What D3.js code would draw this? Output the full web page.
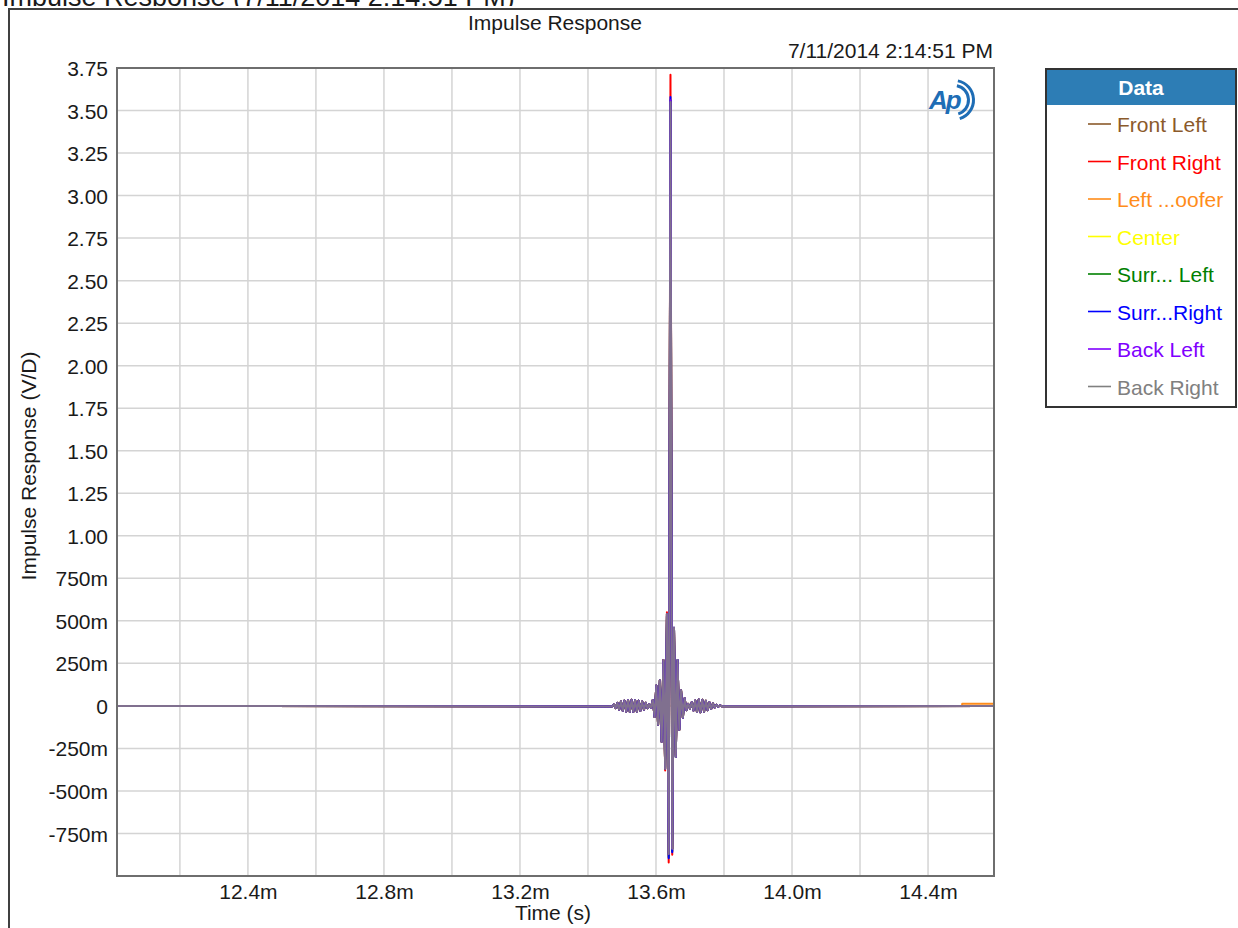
<!DOCTYPE html>
<html>
<head>
<meta charset="utf-8">
<script src="https://cdn.jsdelivr.net/npm/d3@7"></script>
<style>
  html, body { margin: 0; padding: 0; background: #fff; }
  svg { display: block; }
  text { font-family: "Liberation Sans", Arial, sans-serif; }
</style>
</head>
<body>
<svg id="chart" width="1238" height="928"></svg>
<script>
// ---------------- data ----------------
const seriesNames = ["Front Left", "Front Right", "Left ...oofer", "Center", "Surr... Left", "Surr...Right", "Back Left", "Back Right"];
const seriesColors = ["#8B5A2B", "#FF0000", "#FF8C1A", "#FFFF00", "#008000", "#0000FF", "#8000FF", "#808080"];

const xDomain = [12.015, 14.594];          // ms
const yDomain = [-1.0, 3.75];               // V/D

const xGridValues = [12.2, 12.4, 12.6, 12.8, 13.0, 13.2, 13.4, 13.6, 13.8, 14.0, 14.2, 14.4];
const xTickValues = [12.4, 12.8, 13.2, 13.6, 14.0, 14.4];
const xTickLabels = ["12.4m", "12.8m", "13.2m", "13.6m", "14.0m", "14.4m"];

const yTickValues = [-0.75, -0.5, -0.25, 0, 0.25, 0.5, 0.75, 1.0, 1.25, 1.5, 1.75, 2.0, 2.25, 2.5, 2.75, 3.0, 3.25, 3.5, 3.75];
const yTickLabels = ["-750m", "-500m", "-250m", "0", "250m", "500m", "750m", "1.00", "1.25", "1.50", "1.75", "2.00", "2.25", "2.50", "2.75", "3.00", "3.25", "3.50", "3.75"];

// sample times of the impulse region (ms)
const sampleTimes = [
  13.4710, 13.4762, 13.4814, 13.4866, 13.4918, 13.4970, 13.5022, 13.5074, 13.5126, 13.5178,
  13.5230, 13.5282, 13.5334, 13.5386, 13.5438, 13.5490, 13.5542, 13.5594, 13.5646, 13.5698,
  13.5750, 13.5802, 13.5854, 13.5906, 13.5958, 13.6010, 13.6062, 13.6114, 13.6166, 13.6218,
  13.6270, 13.6322, 13.6374, 13.6426, 13.6478, 13.6530, 13.6582, 13.6634, 13.6686, 13.6738,
  13.6790, 13.6842, 13.6894, 13.6946, 13.6998, 13.7050, 13.7102, 13.7154, 13.7206, 13.7258,
  13.7310, 13.7362, 13.7414, 13.7466, 13.7518, 13.7570, 13.7622, 13.7674, 13.7726, 13.7778,
  13.7830, 13.7882, 13.7934
];

// pre-ringing shared by all channels (before the main peak)
const ringLeft = [-0.003, 0.008, -0.013, 0.018, -0.022, 0.026, -0.029, 0.031, -0.033, 0.034,
  -0.035, 0.036, -0.035, 0.034, -0.033, 0.031, -0.029, 0.026, -0.022, 0.018,
  -0.014, 0.010, -0.012, 0.035, -0.065, 0.12, -0.11, 0.15, -0.21];

// post-ringing shared by all channels (after the main peak)
const ringRight = [-0.14, 0.09, -0.07, 0.045, -0.025, 0.012, -0.015, 0.022, -0.028, 0.032,
  -0.036, 0.038, -0.038, 0.036, -0.033, 0.030, -0.026, 0.022, -0.018, 0.014,
  -0.010, 0.007, -0.005, 0.003, -0.002];

// main peak per channel
const coreFrontLeft   = [0.27, -0.37, 0.54, -0.87, 3.55, -0.84, 0.46, -0.30, 0.27];
const coreFrontRight  = [0.27, -0.38, 0.55, -0.92, 3.71, -0.875, 0.45, -0.29, 0.26];
const coreLeftWoofer  = [0.26, -0.36, 0.53, -0.87, 3.53, -0.84, 0.45, -0.29, 0.26];
const coreCenter      = [0.26, -0.36, 0.52, -0.87, 3.52, -0.84, 0.44, -0.28, 0.25];
const coreSurrLeft    = [0.27, -0.37, 0.54, -0.89, 3.56, -0.855, 0.46, -0.30, 0.27];
const coreSurrRight   = [0.26, -0.36, 0.53, -0.895, 3.58, -0.86, 0.46, -0.30, 0.27];
const coreBackLeft    = [0.27, -0.37, 0.54, -0.87, 3.56, -0.84, 0.46, -0.30, 0.27];
const coreBackRight   = [0.27, -0.37, 0.54, -0.87, 3.55, -0.84, 0.46, -0.30, 0.27];
const coreValues = [coreFrontLeft, coreFrontRight, coreLeftWoofer, coreCenter, coreSurrLeft, coreSurrRight, coreBackLeft, coreBackRight];

// tail of the trace (woofer has a small offset at the end)
const tailTimesDefault = [14.594];
const tailValuesDefault = [0];
const tailTimesWoofer = [14.500, 14.5005, 14.594];
const tailValuesWoofer = [0, 0.012, 0.012];

// ---------------- layout ----------------
const svg = d3.select("#chart");
const W = 1238, H = 928;
const plot = { left: 117, right: 994, top: 68, bottom: 876 };
const FONT = "21px";
const TXT = "#1a1a1a";

const x = d3.scaleLinear().domain(xDomain).range([plot.left, plot.right]);
const y = d3.scaleLinear().domain(yDomain).range([plot.bottom, plot.top]);

// cut-off window title at very top (as in the reference screenshot)
svg.append("text").attr("x", 2).attr("y", 5.5)
  .attr("font-size", "27px").attr("fill", TXT)
  .text("Impulse Response (7/11/2014 2:14:51 PM)");
svg.append("rect").attr("x", 0).attr("y", 6).attr("width", W).attr("height", H - 6).attr("fill", "#fff");

// outer frame
svg.append("path").attr("d", `M9,${H} L9,9 L${W},9`)
  .attr("fill", "none").attr("stroke", "#404040").attr("stroke-width", 2);

// titles
svg.append("text").attr("x", 555).attr("y", 30).attr("text-anchor", "middle")
  .attr("font-size", FONT).attr("fill", TXT).text("Impulse Response");
svg.append("text").attr("x", 993).attr("y", 58).attr("text-anchor", "end")
  .attr("font-size", FONT).attr("fill", TXT).text("7/11/2014 2:14:51 PM");

// grid
const grid = svg.append("g");
grid.selectAll("line.gx").data(xGridValues).enter().append("line")
  .attr("x1", d => x(d)).attr("x2", d => x(d))
  .attr("y1", plot.top).attr("y2", plot.bottom)
  .attr("stroke", "#d4d4d4").attr("stroke-width", 1.5);
grid.selectAll("line.gy").data(yTickValues).enter().append("line")
  .attr("x1", plot.left).attr("x2", plot.right)
  .attr("y1", d => y(d)).attr("y2", d => y(d))
  .attr("stroke", "#d4d4d4").attr("stroke-width", 1.5);

// axes
const yAxis = d3.axisLeft(y).tickValues(yTickValues)
  .tickFormat((d, i) => yTickLabels[i]).tickSize(0).tickPadding(9);
const gy = svg.append("g").attr("transform", `translate(${plot.left},0)`).call(yAxis);
gy.select(".domain").remove();
gy.selectAll("text").attr("font-size", FONT).attr("fill", TXT)
  .attr("font-family", "Liberation Sans, Arial, sans-serif").attr("dy", "0.36em");

const xAxis = d3.axisBottom(x).tickValues(xTickValues)
  .tickFormat((d, i) => xTickLabels[i]).tickSize(0).tickPadding(8);
const gx = svg.append("g").attr("transform", `translate(0,${plot.bottom})`).call(xAxis);
gx.select(".domain").remove();
gx.selectAll("text").attr("font-size", FONT).attr("fill", TXT)
  .attr("font-family", "Liberation Sans, Arial, sans-serif");

svg.append("text").attr("x", 553).attr("y", 920).attr("text-anchor", "middle")
  .attr("font-size", FONT).attr("fill", TXT).text("Time (s)");
svg.append("text").attr("transform", "translate(36,466) rotate(-90)")
  .attr("text-anchor", "middle").attr("font-size", FONT).attr("fill", TXT)
  .text("Impulse Response (V/D)");

// data lines
svg.append("clipPath").attr("id", "plotclip").append("rect")
  .attr("x", plot.left).attr("y", plot.top)
  .attr("width", plot.right - plot.left).attr("height", plot.bottom - plot.top);

const line = d3.line().x(d => x(d[0])).y(d => y(d[1]));
const series = seriesNames.map((name, s) => {
  const vals = ringLeft.concat(coreValues[s], ringRight);
  const pts = [[xDomain[0], 0]];
  sampleTimes.forEach((t, i) => pts.push([t, vals[i]]));
  const tt = s === 2 ? tailTimesWoofer : tailTimesDefault;
  const tv = s === 2 ? tailValuesWoofer : tailValuesDefault;
  tt.forEach((t, i) => pts.push([t, tv[i]]));
  return { name, color: seriesColors[s], pts };
});

const lines = svg.append("g").attr("clip-path", "url(#plotclip)");
lines.selectAll("path").data(series).enter().append("path")
  .attr("d", d => line(d.pts))
  .attr("fill", "none")
  .attr("stroke", d => d.color)
  .attr("stroke-width", 2)
  .attr("stroke-opacity", (d, i) => i === 7 ? 0.88 : 1)
  .attr("stroke-linejoin", "round");

// plot border
svg.append("rect").attr("x", plot.left).attr("y", plot.top)
  .attr("width", plot.right - plot.left).attr("height", plot.bottom - plot.top)
  .attr("fill", "none").attr("stroke", "#6e6e6e").attr("stroke-width", 2);

// AP logo
const logo = svg.append("g").attr("transform", "translate(948,100)");
logo.append("text").attr("x", -19).attr("y", 9).attr("font-size", "26px")
  .attr("font-style", "italic").attr("font-weight", "bold")
  .attr("fill", "#1e6db5").attr("letter-spacing", "-2px").text("Ap");
const arc = d3.arc();
[[13, 16], [18, 21]].forEach(r => {
  logo.append("path")
    .attr("d", arc({ innerRadius: r[0], outerRadius: r[1], startAngle: 0.2, endAngle: Math.PI - 0.3 }))
    .attr("transform", "translate(6,0)")
    .attr("fill", "#1e6db5");
});

// legend
const lg = svg.append("g");
const lgBox = { x: 1046, y: 69, w: 190, h: 338, head: 36 };
lg.append("rect").attr("x", lgBox.x).attr("y", lgBox.y).attr("width", lgBox.w).attr("height", lgBox.h)
  .attr("fill", "#fff");
lg.append("rect").attr("x", lgBox.x).attr("y", lgBox.y).attr("width", lgBox.w).attr("height", lgBox.head)
  .attr("fill", "#2d7db5");
lg.append("text").attr("x", lgBox.x + lgBox.w / 2).attr("y", lgBox.y + 26).attr("text-anchor", "middle")
  .attr("font-size", FONT).attr("font-weight", "bold").attr("fill", "#fff").text("Data");
lg.append("rect").attr("x", lgBox.x).attr("y", lgBox.y).attr("width", lgBox.w).attr("height", lgBox.h)
  .attr("fill", "none").attr("stroke", "#333").attr("stroke-width", 2);

const items = lg.selectAll("g.item").data(series).enter().append("g")
  .attr("transform", (d, i) => `translate(0,${124 + i * 37.5})`);
items.append("line").attr("x1", 1088).attr("x2", 1111).attr("y1", 0).attr("y2", 0)
  .attr("stroke", d => d.color).attr("stroke-width", 1.6);
items.append("text").attr("x", 1117).attr("y", 8).attr("font-size", FONT)
  .attr("fill", d => d.color).text(d => d.name);
</script>
</body>
</html>
